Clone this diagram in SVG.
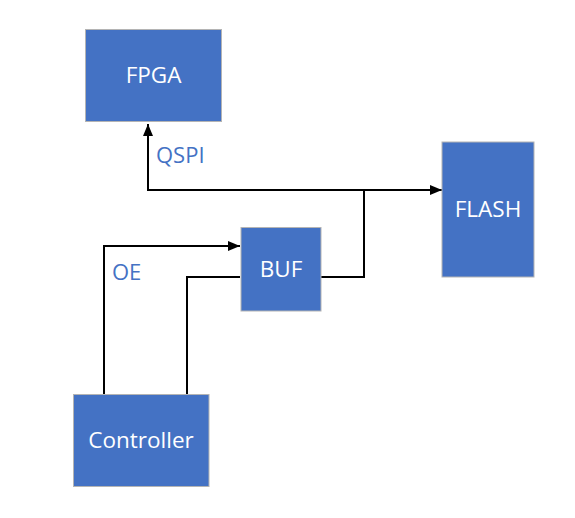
<svg xmlns="http://www.w3.org/2000/svg" width="575" height="518" viewBox="0 0 575 518">
<style>
.box{fill:#4472C4;stroke:#B4B4B4;stroke-width:1}
.t{fill:#FFFFFF;font-family:"Open Sans","Noto Sans",sans-serif;font-size:22.5px;text-anchor:middle}
.lbl{fill:#4472C4;font-family:"Open Sans","Noto Sans",sans-serif;font-size:22px}
.c{fill:none;stroke:#000000;stroke-width:2}
</style>
<defs>
<marker id="arr" viewBox="0 0 12 10" refX="12" refY="5" markerWidth="12" markerHeight="10" markerUnits="userSpaceOnUse" orient="auto-start-reverse">
<path d="M0,0 L12,5 L0,10 Z" fill="#000000"/>
</marker>
</defs>
<rect width="575" height="518" fill="#FFFFFF"/>
<g id="connectors">
<path class="c" d="M148,124 V190 H442" marker-start="url(#arr)" marker-end="url(#arr)"/>
<path class="c" d="M321,277 H364 V190"/>
<path class="c" d="M104,394 V246 H240" marker-end="url(#arr)"/>
<path class="c" d="M187,394 V277 H240"/>
</g>
<g id="FPGA">
<rect class="box" x="85.5" y="29.5" width="136" height="92"/>
<text class="t" x="153.5" y="83">FPGA</text>
</g>
<g id="FLASH">
<rect class="box" x="442" y="142" width="92" height="135"/>
<text class="t" x="488" y="217">FLASH</text>
</g>
<g id="BUF">
<rect class="box" x="241" y="227.5" width="80" height="83.5"/>
<text class="t" x="281" y="277">BUF</text>
</g>
<g id="Controller">
<rect class="box" x="73.5" y="394.5" width="135.5" height="92"/>
<text class="t" x="141" y="448">Controller</text>
</g>
<g id="labels">
<text class="lbl" x="156" y="163">QSPI</text>
<text class="lbl" x="112" y="280">OE</text>
</g>
</svg>
